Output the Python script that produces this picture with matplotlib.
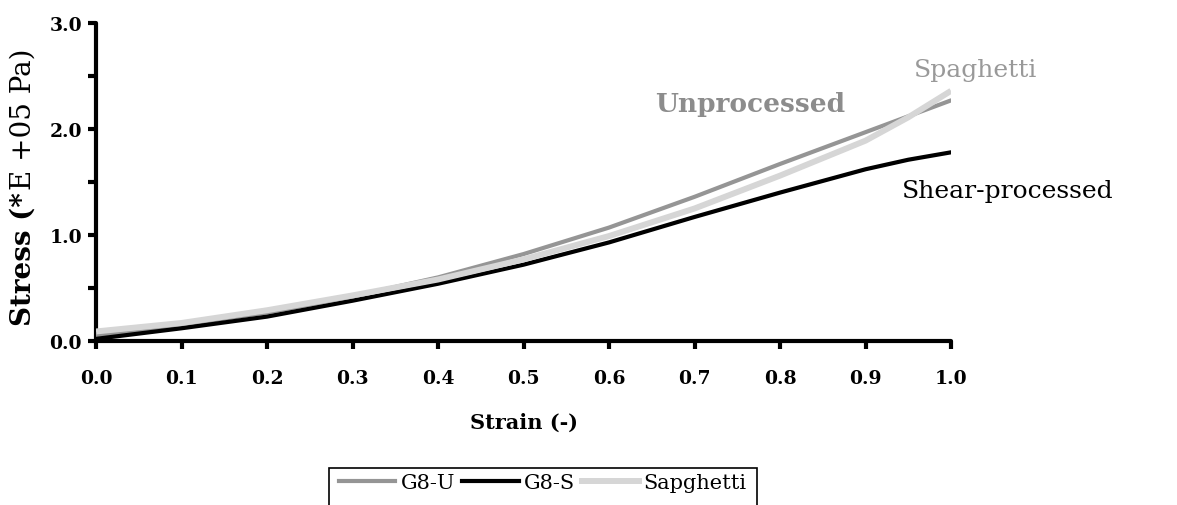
import matplotlib.pyplot as plt
from matplotlib.patches import Rectangle
from matplotlib.lines import Line2D

# data
strain = [0.0, 0.1, 0.2, 0.3, 0.4, 0.5, 0.6, 0.7, 0.8, 0.9, 0.95, 1.0]
g8_u = [0.05, 0.15, 0.27, 0.42, 0.60, 0.82, 1.07, 1.36, 1.67, 1.97, 2.12, 2.27]
g8_s = [0.02, 0.12, 0.23, 0.38, 0.54, 0.72, 0.93, 1.17, 1.40, 1.62, 1.71, 1.78]
spaghetti = [0.09, 0.17, 0.29, 0.43, 0.58, 0.77, 0.99, 1.25, 1.56, 1.89, 2.11, 2.36]

series_names = ["G8-U", "G8-S", "Sapghetti"]

W, H = 1177, 506
fig = plt.figure(figsize=(W / 100, H / 100), dpi=100)
ax = fig.add_axes([96 / W, 1 - 342 / H, (951 - 96) / W, (342 - 24) / H])

serif = "DejaVu Serif"

ax.plot(strain, g8_u, color="#959595", lw=3.0, solid_capstyle="round", zorder=3)
ax.plot(strain, g8_s, color="black", lw=3.0, solid_capstyle="round",
        solid_joinstyle="round", zorder=4)
ax.plot(strain, spaghetti, color="#d6d6d6", lw=4.3, solid_capstyle="butt", zorder=5)

ax.set_xlim(0, 1.0)
ax.set_ylim(0, 3.0)
for s in ["top", "right"]:
    ax.spines[s].set_visible(False)
for s in ["left", "bottom"]:
    ax.spines[s].set_linewidth(3)
    ax.spines[s].set_capstyle("round")

ax.set_xticks([i / 10 for i in range(11)])
ax.set_xticklabels([f"{i / 10:.1f}" for i in range(11)])
ax.set_yticks([0.0, 0.5, 1.0, 1.5, 2.0, 2.5, 3.0])
ax.set_yticklabels(["0.0", "", "1.0", "", "2.0", "", "3.0"])
ax.tick_params(direction="out", length=6, width=3)
ax.tick_params(axis="x", pad=14)
ax.tick_params(axis="y", pad=4)
for lab in ax.get_xticklabels() + ax.get_yticklabels():
    lab.set_fontfamily(serif)
    lab.set_fontweight("bold")
    lab.set_fontsize(13.5)

ax.set_xlabel("Strain (-)", fontfamily=serif, fontweight="bold", fontsize=15,
              va="center")
ax.xaxis.set_label_coords(0.5, -0.255)

# y label: bold part + regular part
fig.canvas.draw()
r = fig.canvas.get_renderer()
t1 = fig.text(23 / W, 1 - 326 / H, "Stress (*", rotation=90, ha="center", va="bottom",
              fontfamily=serif, fontweight="bold", fontsize=20)
bb = t1.get_window_extent(r)
fig.text(23 / W, (bb.y1 + 2) / H, "E +05 Pa)", rotation=90, ha="center", va="bottom",
         fontfamily=serif, fontsize=20)

# annotations
ax.text(0.654, 2.24, "Unprocessed", color="#8c8c8c", fontfamily=serif,
        fontweight="bold", fontsize=19, ha="left", va="center")
ax.text(0.956, 2.56, "Spaghetti", color="#999999", fontfamily=serif,
        fontsize=18, ha="left", va="center")
ax.text(0.943, 1.42, "Shear-processed", color="black", fontfamily=serif,
        fontsize=18, ha="left", va="center")

# legend, box cut off at the bottom edge
fig.patches.append(Rectangle((329 / W, -0.1), (757 - 329) / W, 0.1 + 1 - 469 / H,
                             transform=fig.transFigure, fill=False, lw=1.2,
                             edgecolor="black"))
handles = [Line2D([], [], color="#959595", lw=3.0),
           Line2D([], [], color="black", lw=3.0),
           Line2D([], [], color="#d6d6d6", lw=4.3)]
fig.legend(handles, series_names, loc="center", bbox_to_anchor=(543 / W, 1 - 484 / H),
           ncol=3, frameon=False, prop={"family": serif, "size": 15},
           handlelength=2.7, handletextpad=0.25, columnspacing=0.35, borderaxespad=0)

fig.savefig("out.png", dpi=100)
